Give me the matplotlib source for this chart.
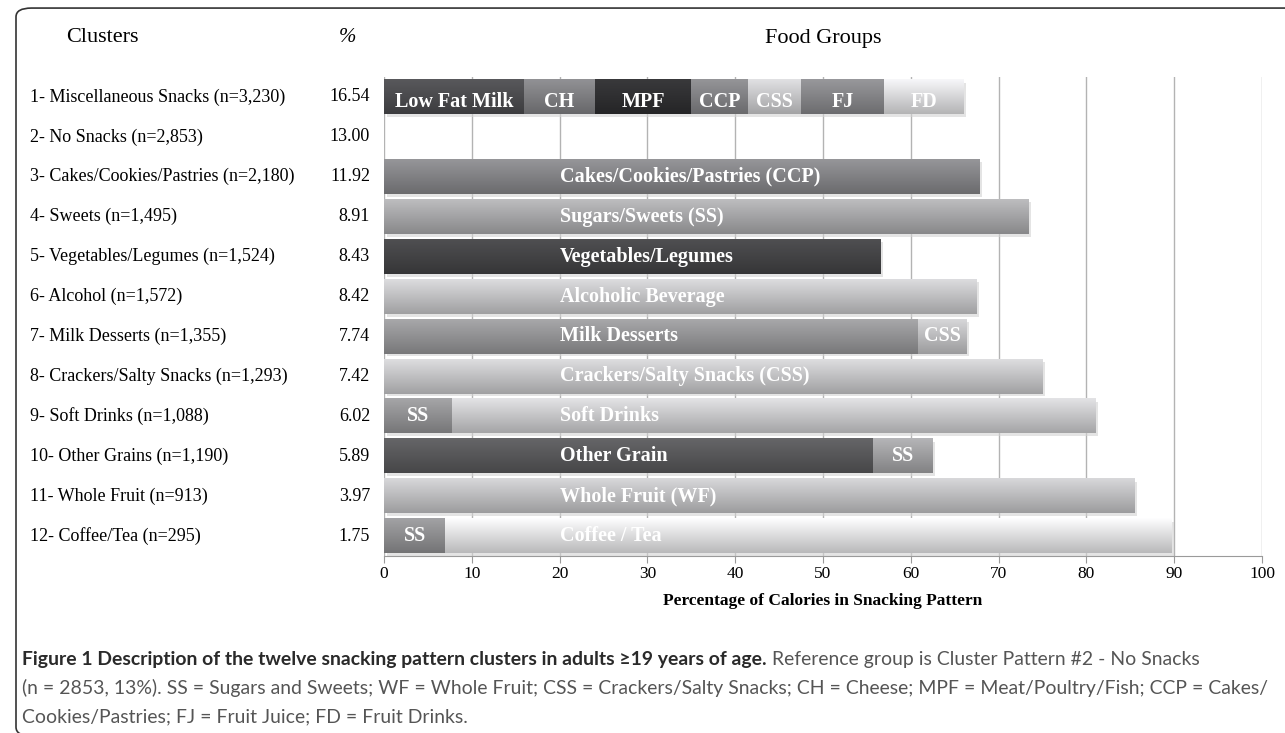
import numpy as np
import matplotlib.pyplot as plt
from matplotlib.colors import to_rgb
from matplotlib.patches import FancyBboxPatch

clusters = [
    "1- Miscellaneous Snacks (n=3,230)",
    "2- No Snacks (n=2,853)",
    "3- Cakes/Cookies/Pastries (n=2,180)",
    "4- Sweets (n=1,495)",
    "5- Vegetables/Legumes (n=1,524)",
    "6- Alcohol (n=1,572)",
    "7- Milk Desserts (n=1,355)",
    "8- Crackers/Salty Snacks (n=1,293)",
    "9- Soft Drinks (n=1,088)",
    "10- Other Grains (n=1,190)",
    "11- Whole Fruit (n=913)",
    "12- Coffee/Tea (n=295)",
]
pct = ["16.54", "13.00", "11.92", "8.91", "8.43", "8.42",
       "7.74", "7.42", "6.02", "5.89", "3.97", "1.75"]

seg_labels = [
    ["Low Fat Milk", "CH", "MPF", "CCP", "CSS", "FJ", "FD"],
    [],
    ["Cakes/Cookies/Pastries (CCP)"],
    ["Sugars/Sweets (SS)"],
    ["Vegetables/Legumes"],
    ["Alcoholic Beverage"],
    ["Milk Desserts", "CSS"],
    ["Crackers/Salty Snacks (CSS)"],
    ["SS", "Soft Drinks"],
    ["Other Grain", "SS"],
    ["Whole Fruit (WF)"],
    ["SS", "Coffee / Tea"],
]
seg_values = [
    [16, 8, 11, 6.5, 6, 9.5, 9],
    [],
    [67.8],
    [73.4],
    [56.5],
    [67.5],
    [60.8, 5.5],
    [75.0],
    [7.7, 73.3],
    [55.7, 6.8],
    [85.5],
    [7.0, 82.7],
]
seg_colors = [
    ["#48484b", "#7b7b7e", "#2c2c2e", "#7e7e81", "#c2c2c4", "#818184", "#d6d6d8"],
    [],
    ["#7f7f82"],
    ["#a2a2a4"],
    ["#404042"],
    ["#bebec0"],
    ["#8f8f91", "#b9b9bb"],
    ["#bfbfc1"],
    ["#8d8d8f", "#c4c4c6"],
    ["#545456", "#9b9b9d"],
    ["#bababc"],
    ["#8a8a8c", "#dcdcde"],
]

caption_bold = "Figure 1 Description of the twelve snacking pattern clusters in adults \u226519 years of age."
caption_lines = [
    " Reference group is Cluster Pattern #2 - No Snacks",
    "(n = 2853, 13%). SS = Sugars and Sweets; WF = Whole Fruit; CSS = Crackers/Salty Snacks; "
    "CH = Cheese; MPF = Meat/Poultry/Fish; CCP = Cakes/",
    "Cookies/Pastries; FJ = Fruit Juice; FD = Fruit Drinks.",
]

serif = "Liberation Serif"
sans = ["Lato", "DejaVu Sans"]

fig = plt.figure(figsize=(12.85, 7.33), dpi=100)
ax = fig.add_axes([384 / 1285, 1 - 556 / 733, 878 / 1285, 479 / 733])

h = 0.86
for i, (vals, cols, labs) in enumerate(zip(seg_values, seg_colors, seg_labels)):
    left = 0
    for v, c, lab in zip(vals, cols, labs):
        # soft shadow
        ax.barh(i + 0.07, v, left=left + 0.3, height=h, color="#d2d2d2",
                alpha=0.6, zorder=2, linewidth=0)
        ax.barh(i, v, left=left, height=h, color=c, zorder=3, linewidth=0)
        rgb = np.array(to_rgb(c))
        g = np.linspace(0, 1, 64)[:, None, None]
        top = np.clip(rgb * 1.12 + 0.03, 0, 1)
        bot = rgb * 0.84
        img = top * (1 - g) + bot * g
        ax.imshow(img, extent=[left, left + v, i + h / 2, i - h / 2],
                  aspect="auto", zorder=3.5, interpolation="bilinear")
        dy = 0.13 if i == 0 else 0
        if v > 30:
            ax.text(20, i + dy, lab, color="white", fontweight="bold",
                    family=serif, fontsize=14.5, va="center", ha="left", zorder=5)
        else:
            ax.text(left + v / 2, i + dy, lab, color="white", fontweight="bold",
                    family=serif, fontsize=14.5, va="center", ha="center", zorder=5)
        left += v

ax.set_xlim(0, 100)
ax.set_ylim(11.5, -0.5)
ax.set_xticks(range(0, 101, 10))
ax.set_yticks([])
ax.grid(axis="x", color="#b3b3b3", lw=1)
ax.set_axisbelow(True)
for s in ["top", "left", "right"]:
    ax.spines[s].set_visible(False)
ax.spines["bottom"].set_color("#9a9a9a")
ax.tick_params(axis="x", direction="out", length=5, color="#9a9a9a", pad=2,
               labelsize=12.5)
for t in ax.get_xticklabels():
    t.set_family(serif)
ax.set_xlabel("Percentage of Calories in Snacking Pattern", family=serif,
              fontweight="bold", fontsize=12.5, labelpad=8)

tr = ax.get_yaxis_transform()
for i, (name, p) in enumerate(zip(clusters, pct)):
    ax.text((30 - 384) / 878, i, name, transform=tr, family=serif,
            fontsize=13, va="center", ha="left")
    ax.text((370 - 384) / 878, i, p, transform=tr, family=serif,
            fontsize=13, va="center", ha="right")

hy = 1 - 38 / 733
fig.text(102 / 1285, hy, "Clusters", family=serif, fontsize=16, ha="center", va="center")
fig.text(348 / 1285, hy, "%", family=serif, fontsize=15, ha="center", va="center",
         style="italic")
fig.text(823 / 1285, hy, "Food Groups", family=serif, fontsize=16, ha="center",
         va="center")

# caption
fs = 13
t1 = fig.text(22 / 1285, 1 - 659 / 733, caption_bold, family=sans, fontweight="bold",
              fontsize=fs, color="#2a2a2a", va="center", ha="left")
t2 = ax.annotate(caption_lines[0], xy=(1, 0), xycoords=t1, va="bottom", ha="left",
                 family=sans, fontsize=fs, color="#555555", annotation_clip=False)
t3 = fig.text(22 / 1285, 1 - 688 / 733, caption_lines[1], family=sans, fontsize=fs,
              color="#555555", va="center", ha="left")
t4 = fig.text(22 / 1285, 1 - 717 / 733, caption_lines[2], family=sans, fontsize=fs,
              color="#555555", va="center", ha="left")
# fit the long caption line to the frame width
fig.canvas.draw()
w = t3.get_window_extent().width
fs = fs * 1238 / w
for t in (t1, t2, t3, t4):
    t.set_fontsize(fs)

frame = FancyBboxPatch((16 / 1285, -0.004), 1.05, 0.993,
                       boxstyle="round,pad=0,rounding_size=0.012",
                       transform=fig.transFigure, fill=False, edgecolor="#333333",
                       lw=1.2, clip_on=False)
fig.add_artist(frame)

fig.savefig("out.png", dpi=100)
